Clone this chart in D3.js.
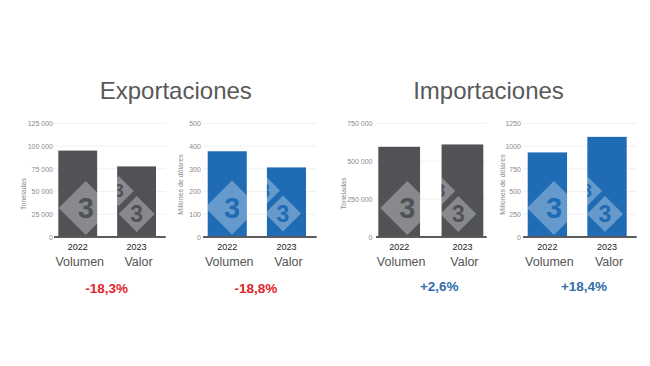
<!DOCTYPE html>
<html>
<head>
<meta charset="utf-8">
<script src="https://cdn.jsdelivr.net/npm/d3@7"></script>
<style>
  body { margin: 0; background: #fff; }
  svg { display: block; }
  text { font-family: "Liberation Sans", Arial, sans-serif; }
</style>
</head>
<body>
<svg id="chart" width="650" height="366"></svg>
<script>
// ---- data ----
const years = ["2022", "2023"];
const measureLabels = ["Volumen", "Valor"];
const sectionTitles = ["Exportaciones", "Importaciones"];
const axisTitles = ["Toneladas", "Millones de dólares", "Toneladas", "Millones de dólares"];

const exportVolume = [95000, 77600];     // toneladas
const exportValue = [377, 306];          // millones de dólares
const importVolume = [595000, 610500];   // toneladas
const importValue = [930, 1101];         // millones de dólares

const exportVolumeTicks = [0, 25000, 50000, 75000, 100000, 125000];
const exportValueTicks = [0, 100, 200, 300, 400, 500];
const importVolumeTicks = [0, 250000, 500000, 750000];
const importValueTicks = [0, 250, 500, 750, 1000, 1250];

const changeLabels = ["-18,3%", "-18,8%", "+2,6%", "+18,4%"];

// ---- style ----
const GREY = "#505256";
const BLUE = "#1f6bb4";
const RED = "#e1232b";
const CHANGE_BLUE = "#2f6eaa";

const spaced = d3.formatLocale({ decimal: ",", thousands: " ", grouping: [3], currency: ["", ""] }).format(",");
const plain = d3.format("d");

const svg = d3.select("#chart");

const panels = [
  { values: exportVolume, ticks: exportVolumeTicks, fmt: spaced, color: GREY,
    axis: [54, 165.7], bars: [58.3, 156], tickX: 53, titleX: 24, titleY: 194,
    logo: [85.7, 208], change: { x: 106.7, y: 292.7, color: RED } },
  { values: exportValue, ticks: exportValueTicks, fmt: plain, color: BLUE,
    axis: [203, 316.7], bars: [207.7, 306], tickX: 201, titleX: 181, titleY: 184.5,
    logo: [232, 207.5], change: { x: 255.8, y: 292.7, color: RED } },
  { values: importVolume, ticks: importVolumeTicks, fmt: spaced, color: GREY,
    axis: [376, 486.7], bars: [378.3, 483.3], tickX: 372.5, titleX: 343.5, titleY: 193.5,
    logo: [407.3, 208], change: { x: 439.3, y: 290.7, color: CHANGE_BLUE } },
  { values: importValue, ticks: importValueTicks, fmt: plain, color: BLUE,
    axis: [523, 636.7], bars: [527.7, 626.7], tickX: 521, titleX: 503, titleY: 184.5,
    logo: [554, 208], change: { x: 584, y: 290.7, color: CHANGE_BLUE } }
];

const Y0 = 237, Y1 = 123.3;

// section headings
const titleCenters = [175.8, 488.5];
svg.selectAll("text.section")
  .data(sectionTitles)
  .join("text")
  .attr("class", "section")
  .attr("x", (d, i) => titleCenters[i])
  .attr("y", 99.3)
  .attr("text-anchor", "middle")
  .attr("font-size", 24)
  .attr("fill", "#595959")
  .text(d => d);

// logo diamonds: [dx, dy, half-diagonal, glyph size]
const logoParts = [
  [0, 0, 27, 29],
  [33, -17, 15, 18],
  [51, 6, 18, 23]
];

panels.forEach((p, i) => {
  const g = svg.append("g");
  const y = d3.scaleLinear().domain([0, d3.max(p.ticks)]).range([Y0, Y1]);
  const x = d3.scaleBand().domain(years).range(p.bars).paddingInner(0.34).paddingOuter(0);

  // faint gridlines
  g.append("g")
    .selectAll("line")
    .data(p.ticks.slice(1))
    .join("line")
    .attr("x1", p.axis[0]).attr("x2", p.axis[1])
    .attr("y1", d => y(d)).attr("y2", d => y(d))
    .attr("stroke", "#f1f1f1").attr("stroke-width", 1);

  // y tick labels
  const yAxis = d3.axisLeft(y).tickValues(p.ticks).tickFormat(p.fmt).tickSize(0).tickPadding(0);
  const ax = g.append("g").attr("transform", `translate(${p.tickX},0)`).call(yAxis);
  ax.select(".domain").remove();
  ax.selectAll("text")
    .attr("font-size", 7)
    .attr("fill", "#8a8a8a")
    .attr("font-family", "\"Liberation Sans\", Arial, sans-serif");

  // y axis title
  g.append("text")
    .attr("transform", `translate(${p.titleX},${p.titleY}) rotate(-90)`)
    .attr("text-anchor", "middle")
    .attr("dy", "0.35em")
    .attr("font-size", 7)
    .attr("fill", "#8a8a8a")
    .text(axisTitles[i]);

  // bars
  const data = years.map((yr, k) => ({ year: yr, value: p.values[k] }));
  g.append("g")
    .selectAll("rect")
    .data(data)
    .join("rect")
    .attr("x", d => x(d.year))
    .attr("width", x.bandwidth())
    .attr("y", d => y(d.value))
    .attr("height", d => Y0 - y(d.value))
    .attr("fill", p.color);

  // logo watermark, visible on the bars only
  const clipId = "barclip" + i;
  svg.append("clipPath").attr("id", clipId)
    .selectAll("rect")
    .data(data)
    .join("rect")
    .attr("x", d => x(d.year))
    .attr("width", x.bandwidth())
    .attr("y", d => y(d.value))
    .attr("height", d => Y0 - y(d.value));

  const logo = g.append("g").attr("clip-path", `url(#${clipId})`);
  logoParts.forEach(([dx, dy, h, fs]) => {
    const cx = p.logo[0] + dx, cy = p.logo[1] + dy;
    logo.append("path")
      .attr("d", `M${cx},${cy - h}L${cx + h},${cy}L${cx},${cy + h}L${cx - h},${cy}Z`)
      .attr("fill", "#fff")
      .attr("fill-opacity", 0.32);
    logo.append("text")
      .attr("x", cx).attr("y", cy)
      .attr("dy", "0.35em")
      .attr("text-anchor", "middle")
      .attr("font-size", fs)
      .attr("font-weight", "bold")
      .attr("fill", p.color)
      .text("3");
  });

  // baseline
  g.append("line")
    .attr("x1", p.axis[0]).attr("x2", p.axis[1])
    .attr("y1", Y0).attr("y2", Y0)
    .attr("stroke", "#5c5c5c").attr("stroke-width", 2);

  // year labels
  g.append("g")
    .selectAll("text")
    .data(years)
    .join("text")
    .attr("x", d => x(d) + x.bandwidth() / 2)
    .attr("y", 249.5)
    .attr("text-anchor", "middle")
    .attr("font-size", 9)
    .attr("fill", "#222")
    .text(d => d);

  // measure labels
  g.append("g")
    .selectAll("text")
    .data(measureLabels)
    .join("text")
    .attr("x", (d, k) => x(years[k]) + x.bandwidth() / 2 + 2)
    .attr("y", 266)
    .attr("text-anchor", "middle")
    .attr("font-size", 12.5)
    .attr("fill", "#555")
    .text(d => d);

  // change label
  g.append("text")
    .attr("x", p.change.x)
    .attr("y", p.change.y)
    .attr("text-anchor", "middle")
    .attr("font-size", 13.5)
    .attr("font-weight", "bold")
    .attr("fill", p.change.color)
    .text(changeLabels[i]);
});
</script>
</body>
</html>
